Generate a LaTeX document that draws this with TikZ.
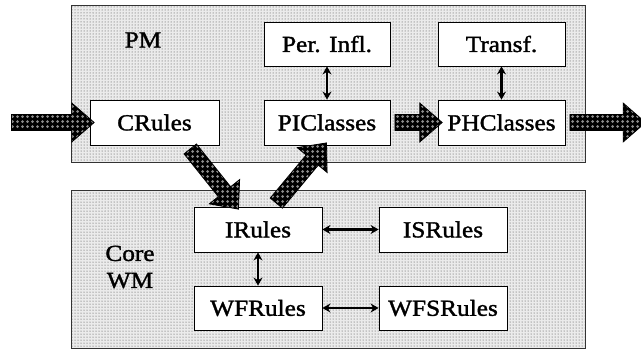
\documentclass[tikz,border=0pt]{standalone}
\usepackage{fontspec}
\setmainfont{Liberation Serif}[FakeStretch=1.1,FakeBold=1.5]
\usetikzlibrary{patterns,patterns.meta,shapes.arrows,calc,arrows.meta}
\tikzdeclarepattern{name=circs, type=uncolored, bottom left={(-.1pt,-.1pt)}, top right={(5.1pt,5.1pt)}, tile size={(5pt,5pt)},
  code={\fill (2.5pt,2.5pt) circle (1.5pt);}}
\tikzset{
  container/.style={draw=black!80, line width=0.8pt, preaction={fill=black!8}, pattern=dots, pattern color=black!75, inner sep=0pt, anchor=north west},
  box/.style={draw, line width=0.8pt, fill=white, minimum width=128pt, minimum height=45pt, inner sep=0pt, font=\fontsize{23}{27}\selectfont},
  lbl/.style={font=\fontsize{23}{27}\selectfont, align=center, inner sep=0pt},
  bigarrow/.style={single arrow, draw=black, line width=0.8pt, preaction={fill=black}, pattern=circs, pattern color=black!45,
    inner xsep=0pt, inner ysep=7.5pt, single arrow head extend=11.5pt, single arrow tip angle=82, minimum width=38pt},
  dbl/.style={{Stealth[length=8pt,width=9pt]}-{Stealth[length=8pt,width=9pt]}, line width=2.2pt}
}
\newcommand{\bigarr}[2]{%
  \path let \p1=(#1), \p2=(#2), \n1={atan2(\y2-\y1,\x2-\x1)}, \n2={veclen(\x2-\x1,\y2-\y1)} in
    node[bigarrow, minimum height=\n2, rotate=\n1] at ($(\p1)!0.5!(\p2)$) {};}
\begin{document}
\begin{tikzpicture}[x=1pt,y=-1pt]
\useasboundingbox (0,0) rectangle (641,349);
% containers
\node[container, minimum width=514pt, minimum height=157pt] (pm) at (71,5) {};
\node[container, minimum width=514pt, minimum height=158pt] (wm) at (71,190) {};
\node[lbl] (pmlbl) at (143,40) {PM};
\node[lbl] (wmlbl) at (130,267) {Core\\WM};
% boxes
\node[box, minimum width=129pt] (crules) at (154.5,122.5) {CRules};
\node[box, minimum width=126pt, minimum height=44pt] (perinfl) at (327,44) {Per. Infl.};
\node[box, minimum width=126pt] (piclasses) at (327,122.5) {PIClasses};
\node[box, minimum width=127pt, minimum height=44pt] (transf) at (501.5,44) {Transf.};
\node[box, minimum width=127pt] (phclasses) at (501.5,122.5) {PHClasses};
\node[box] (irules) at (258,229.5) {IRules};
\node[box] (isrules) at (443,229.5) {ISRules};
\node[box, minimum height=44pt] (wfrules) at (258,308) {WFRules};
\node[box, minimum height=44pt] (wfsrules) at (443,308) {WFSRules};
% free ends
\coordinate (in) at (7,122.5);
\coordinate (out) at (641,122.5);
\coordinate (d1s) at ($(crules.south east)+(-32,0)$);
\coordinate (d1e) at ($(irules.north west)+(42,-1)$);
\coordinate (d2s) at ($(irules.north east)+(-49,0)$);
\coordinate (d2e) at ($(piclasses.south west)+(60,1)$);
% big arrows
\bigarr{in}{crules.west}
\bigarr{piclasses.east}{phclasses.west}
\bigarr{phclasses.east}{out}
\bigarr{d1s}{d1e}
\bigarr{d2s}{d2e}
% double arrows
\draw[dbl] (perinfl.south) -- (piclasses.north);
\draw[dbl] (transf.south) -- (phclasses.north);
\draw[dbl] (irules.south) -- (wfrules.north);
\draw[dbl] (irules.east) -- (isrules.west);
\draw[dbl] (wfrules.east) -- (wfsrules.west);
\end{tikzpicture}
\end{document}
